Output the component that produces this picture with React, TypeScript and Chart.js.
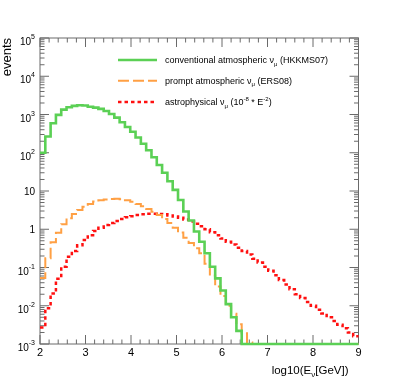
import React, { useEffect, useRef } from 'react';
import { Chart, registerables } from 'chart.js';
Chart.register(...registerables);

// Histogram binning (log10 E from 2 to 9, 60 bins)
const BIN_LOW = 2;
const BIN_HIGH = 9;
const N_BINS = 60;
const Y_FLOOR = 1e-3;
const Y_CEIL = 1e5;

// conventional atmospheric nu_mu (HKKMS07)
const conventional = [
  100, 265, 590, 980, 1340, 1545, 1680, 1750, 1720, 1600,
  1510, 1400, 1240, 1030, 830, 630, 470, 355, 250, 172,
  116, 76, 48, 30, 18, 10.7, 5.8, 2.9, 1.7, 0.87,
  0.47, 0.235, 0.105, 0.052, 0.025, 0.011, 0.005, 0.0022, 0, 0,
  0, 0, 0, 0, 0, 0, 0, 0, 0, 0,
  0, 0, 0, 0, 0, 0, 0, 0, 0, 0,
];

// prompt atmospheric nu_mu (ERS08)
const prompt = [
  0.053, 0.175, 0.46, 0.815, 1.35, 1.94, 2.5, 3.2, 3.9, 4.6,
  5.3, 5.7, 5.95, 6.2, 6.3, 6.1, 5.7, 5.2, 4.6, 4.0,
  3.4, 2.85, 2.35, 1.85, 1.45, 1.1, 0.82, 0.6, 0.44, 0.32,
  0.235, 0.125, 0.062, 0.032, 0.018, 0.01, 0.0062, 0.0033, 0.0019, 0.0011,
  0, 0, 0, 0, 0, 0, 0, 0, 0, 0,
  0, 0, 0, 0, 0, 0, 0, 0, 0, 0,
];

// astrophysical nu_mu (1e-8 * E^-2)
const astro = [
  0.0027, 0.0086, 0.021, 0.051, 0.105, 0.19, 0.27, 0.38, 0.52, 0.7,
  0.9, 1.1, 1.3, 1.45, 1.65, 1.85, 2.05, 2.2, 2.35, 2.45,
  2.55, 2.55, 2.5, 2.45, 2.3, 2.15, 2.0, 1.8, 1.6, 1.4,
  1.2, 1.0, 0.84, 0.7, 0.57, 0.47, 0.4, 0.33, 0.27, 0.22,
  0.17, 0.135, 0.105, 0.082, 0.063, 0.047, 0.036, 0.027, 0.02, 0.016,
  0.0125, 0.01, 0.0079, 0.0063, 0.005, 0.004, 0.0032, 0.0026, 0.002, 0.0016,
];

const xTickValues = [2, 3, 4, 5, 6, 7, 8, 9];
const xTickLabels = ['2', '3', '4', '5', '6', '7', '8', '9'];
const yDecades = [-3, -2, -1, 0, 1, 2, 3, 4, 5];

const GREEN = '#5bd055';
const ORANGE = '#ffa044';
const RED = '#ff1010';
const AXIS = '#6a6a6a';
const FONT = '"Liberation Sans", Arial, Helvetica, sans-serif';

type Part = { t: string; size: number; dy: number };

function partsWidth(ctx: CanvasRenderingContext2D, parts: Part[]) {
  let w = 0;
  for (const p of parts) {
    ctx.font = `${p.size}px ${FONT}`;
    w += ctx.measureText(p.t).width;
  }
  return w;
}

function drawParts(
  ctx: CanvasRenderingContext2D,
  parts: Part[],
  x: number,
  y: number,
  align: 'left' | 'right' | 'center'
) {
  const total = partsWidth(ctx, parts);
  let cx = align === 'left' ? x : align === 'right' ? x - total : x - total / 2;
  ctx.textAlign = 'left';
  ctx.textBaseline = 'alphabetic';
  for (const p of parts) {
    ctx.font = `${p.size}px ${FONT}`;
    ctx.fillText(p.t, cx, y + p.dy);
    cx += ctx.measureText(p.t).width;
  }
}

function histPoints(values: number[]) {
  const w = (BIN_HIGH - BIN_LOW) / N_BINS;
  const pts = values.map((v, i) => ({ x: BIN_LOW + i * w, y: Math.max(v, Y_FLOOR) }));
  pts.push({ x: BIN_HIGH, y: Math.max(values[values.length - 1], Y_FLOOR) });
  return pts;
}

const legendItems: { color: string; dash: number[]; width: number; parts: Part[] }[] = [
  {
    color: GREEN,
    dash: [],
    width: 2.6,
    parts: [
      { t: 'conventional atmospheric \u03bd', size: 9, dy: 0 },
      { t: '\u03bc', size: 6, dy: 2.5 },
      { t: ' (HKKMS07)', size: 9, dy: 0 },
    ],
  },
  {
    color: ORANGE,
    dash: [11, 4],
    width: 2,
    parts: [
      { t: 'prompt atmospheric \u03bd', size: 9, dy: 0 },
      { t: '\u03bc', size: 6, dy: 2.5 },
      { t: ' (ERS08)', size: 9, dy: 0 },
    ],
  },
  {
    color: RED,
    dash: [3.5, 3],
    width: 2.5,
    parts: [
      { t: 'astrophysical \u03bd', size: 9, dy: 0 },
      { t: '\u03bc', size: 6, dy: 2.5 },
      { t: ' (10', size: 9, dy: 0 },
      { t: '-8', size: 6, dy: -4 },
      { t: ' * E', size: 9, dy: 0 },
      { t: '-2', size: 6, dy: -4 },
      { t: ')', size: 9, dy: 0 },
    ],
  },
];

const rootStyle = {
  id: 'rootStyle',
  beforeDatasetsDraw(chart: any) {
    const { ctx, chartArea } = chart;
    const xs = chart.scales.x;
    const ys = chart.scales.y;
    const { left, right, top, bottom } = chartArea;
    ctx.save();
    ctx.strokeStyle = AXIS;
    ctx.lineWidth = 1;
    ctx.strokeRect(left, top, right - left, bottom - top);
    ctx.beginPath();
    // x ticks (major at integers, minor every 0.2)
    for (let i = 0; i < xTickValues.length; i++) {
      const v = xTickValues[i];
      const px = xs.getPixelForValue(v);
      ctx.moveTo(px, bottom); ctx.lineTo(px, bottom - 9);
      ctx.moveTo(px, top); ctx.lineTo(px, top + 9);
      if (i < xTickValues.length - 1) {
        for (let m = 1; m < 5; m++) {
          const mx = xs.getPixelForValue(v + m * 0.2);
          ctx.moveTo(mx, bottom); ctx.lineTo(mx, bottom - 4.5);
          ctx.moveTo(mx, top); ctx.lineTo(mx, top + 4.5);
        }
      }
    }
    // y ticks (decades + minors)
    for (let i = 0; i < yDecades.length; i++) {
      const d = yDecades[i];
      const py = ys.getPixelForValue(Math.pow(10, d));
      ctx.moveTo(left, py); ctx.lineTo(left + 9, py);
      ctx.moveTo(right, py); ctx.lineTo(right - 9, py);
      if (i < yDecades.length - 1) {
        for (let m = 2; m < 10; m++) {
          const my = ys.getPixelForValue(m * Math.pow(10, d));
          ctx.moveTo(left, my); ctx.lineTo(left + 4.5, my);
          ctx.moveTo(right, my); ctx.lineTo(right - 4.5, my);
        }
      }
    }
    ctx.stroke();
    ctx.restore();
  },
  afterDatasetsDraw(chart: any) {
    const { ctx, chartArea } = chart;
    const xs = chart.scales.x;
    const ys = chart.scales.y;
    const { left, right, top, bottom } = chartArea;
    ctx.save();
    ctx.fillStyle = '#000';
    // x labels
    xTickValues.forEach((v, i) => {
      const px = xs.getPixelForValue(v);
      drawParts(ctx, [{ t: xTickLabels[i], size: 11, dy: 0 }], px, bottom + 12, 'center');
    });
    // y labels
    yDecades.forEach((d) => {
      const py = ys.getPixelForValue(Math.pow(10, d));
      if (d === 0) drawParts(ctx, [{ t: '1', size: 10, dy: 0 }], left - 5, py + 3.6, 'right');
      else if (d === 1) drawParts(ctx, [{ t: '10', size: 10, dy: 0 }], left - 5, py + 3.6, 'right');
      else
        drawParts(
          ctx,
          [
            { t: '10', size: 10, dy: 0 },
            { t: String(d), size: 7, dy: -6 },
          ],
          left - 5,
          py + 7,
          'right'
        );
    });
    // axis titles
    drawParts(
      ctx,
      [
        { t: 'log10(E', size: 11.5, dy: 0 },
        { t: '\u03bd', size: 8, dy: 3 },
        { t: '[GeV])', size: 11.5, dy: 0 },
      ],
      right - 10,
      bottom + 30,
      'right'
    );
    ctx.save();
    ctx.translate(10.5, top);
    ctx.rotate(-Math.PI / 2);
    ctx.font = `13px ${FONT}`;
    ctx.textAlign = 'right';
    ctx.textBaseline = 'alphabetic';
    ctx.fillText('events', 0, 0);
    ctx.restore();
    // legend
    const lx0 = 118;
    const lx1 = 157;
    const rows = [60, 80.7, 102];
    legendItems.forEach((it, i) => {
      const y = rows[i];
      ctx.save();
      ctx.strokeStyle = it.color;
      ctx.lineWidth = it.width;
      ctx.setLineDash(it.dash);
      ctx.beginPath();
      ctx.moveTo(lx0, y);
      ctx.lineTo(lx1, y);
      ctx.stroke();
      ctx.restore();
      ctx.fillStyle = '#000';
      drawParts(ctx, it.parts, 165, y + 3.2, 'left');
    });
    ctx.restore();
  },
};

export default function App() {
  const ref = useRef<HTMLCanvasElement>(null);
  useEffect(() => {
    if (!ref.current) return;
    const chart = new Chart(ref.current, {
      type: 'line',
      data: {
        datasets: [
          {
            label: 'conventional',
            data: histPoints(conventional),
            borderColor: GREEN,
            borderWidth: 2.6,
            stepped: true,
            pointRadius: 0,
            fill: false,
            clip: false as any,
            borderJoinStyle: 'miter',
          },
          {
            label: 'prompt',
            data: histPoints(prompt),
            borderColor: ORANGE,
            borderWidth: 2,
            borderDash: [11, 4],
            stepped: true,
            pointRadius: 0,
            fill: false,
            clip: false as any,
            borderJoinStyle: 'miter',
          },
          {
            label: 'astro',
            data: histPoints(astro),
            borderColor: RED,
            borderWidth: 2.5,
            borderDash: [3.5, 3],
            stepped: true,
            pointRadius: 0,
            fill: false,
            clip: false as any,
            borderJoinStyle: 'miter',
          },
        ],
      },
      options: {
        responsive: false,
        animation: false,
        devicePixelRatio: 1,
        parsing: false as any,
        normalized: true,
        layout: { padding: { left: 40, right: 40.5, top: 38, bottom: 39 } },
        scales: {
          x: { type: 'linear', min: BIN_LOW, max: BIN_HIGH, display: false },
          y: { type: 'logarithmic', min: Y_FLOOR, max: Y_CEIL, display: false },
        },
        plugins: { legend: { display: false }, tooltip: { enabled: false } },
        events: [],
      },
      plugins: [rootStyle],
    });
    return () => chart.destroy();
  }, []);
  return (
    <div style={{ position: 'absolute', left: 0, top: 0, width: 399, height: 383, background: '#fff' }}>
      <canvas ref={ref} width={399} height={383} style={{ display: 'block' }} />
    </div>
  );
}
